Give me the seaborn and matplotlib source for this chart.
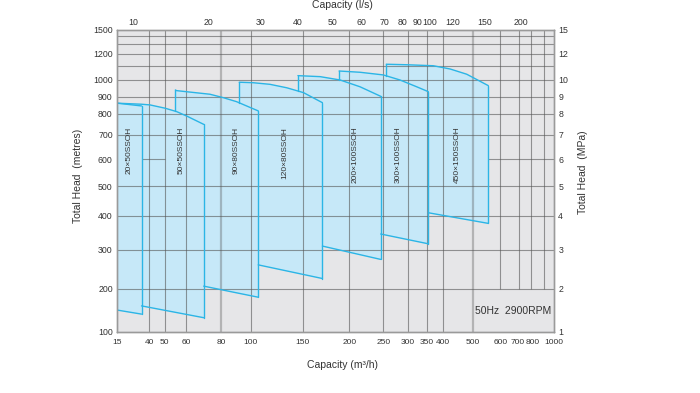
"""
Pump selection chart (SSOH series) recreated with seaborn / matplotlib.
"""

import numpy as np
import pandas as pd
import matplotlib
matplotlib.use("Agg")
import matplotlib.pyplot as plt
import matplotlib.transforms as mtransforms
import seaborn as sns


# pump models, flow in m3/h, head in metres
models = ["20×50SSOH", "50×50SSOH", "90×80SSOH", "120×80SSOH",
          "200×100SSOH", "300×100SSOH", "450×150SSOH"]

top_flow = [
    [15, 38],
    [15, 38, 40.4, 50.2, 55.3, 60.1, 69.3],
    [54.7, 55.3, 73, 81.4, 90, 99.5, 106.2],
    [91.8, 102, 116.4, 132.7, 147.3, 151, 169.5],
    [144.7, 167.2, 189, 214.6, 245.8],
    [187.8, 214.6, 250, 283.2, 322.7, 354.7],
    [255.6, 297.8, 369.8, 422.4, 478.3, 554.2],
]
top_head = [
    [861, 845],
    [861, 855, 851, 832, 813, 790, 749],
    [939, 935, 914, 894, 870, 837, 817],
    [986, 983, 973, 952, 929, 923, 864],
    [1030, 1023, 1000, 958, 902],
    [1063, 1054, 1035, 1000, 958, 929],
    [1114, 1110, 1102, 1078, 1040, 965],
]
bottom_flow = [
    [15, 38], [38, 69.3], [69.3, 106.2], [106.2, 169.5],
    [169.5, 245.8], [245.8, 354.7], [354.7, 554.2],
]
bottom_head = [
    [142, 133], [152, 125.5], [206, 175], [257, 223],
    [310, 272], [343, 316], [409, 375],
]
label_flow = [28.4, 57.3, 89.4, 131.2, 207.7, 279.7, 447.2]

# axis ticks and grid
flow_ticks = [15, 40, 50, 60, 80, 100, 150, 200, 250, 300, 350, 400,
              500, 600, 700, 800, 1000]
flow_grid = [40, 50, 60, 100, 150, 200, 250, 300, 350, 400]
flow_grid_wide = [80, 500]
flow_grid_upper = [600, 700, 800, 900]
head_ticks = [100, 200, 300, 400, 500, 600, 700, 800, 900, 1000, 1200, 1500]
head_grid = [200, 300, 400, 500, 700, 800, 900, 1000, 1100, 1200, 1300, 1400]
mpa_labels = ["1", "2", "3", "4", "5", "6", "7", "8", "9", "10", "12", "15"]
ls_ticks = [10, 20, 30, 40, 50, 60, 70, 80, 90, 100, 120, 150, 200]

# the printed axes are hand drawn, not a clean log scale:
# knots of value -> distance along the axis (px)
X_KNOTS = [15, 36, 40, 50, 60, 80, 100, 150, 200, 250, 300, 350, 400,
           500, 600, 700, 800, 900, 1000]
X_DIST = [0, 16, 32, 47.4, 69, 103.7, 133.2, 185.2, 232, 266, 290.4,
          309.4, 325.4, 355.4, 383, 401.4, 414, 426.4, 436.4]
Y_KNOTS = [100, 200, 300, 400, 500, 600, 700, 800, 900, 1000, 1100,
           1200, 1300, 1400, 1500]
Y_DIST = [0, 42.7, 81.7, 116, 145.4, 172.4, 196.7, 217.7, 235, 251.7,
          265.7, 277.7, 287.4, 295.7, 301.7]


def make_scale(knots, dist):
    lk = np.log10(knots)
    d = np.asarray(dist, float)

    def fwd(v):
        v = np.clip(np.asarray(v, float), 1e-6, None)
        return np.interp(np.log10(v), lk, d)

    def inv(u):
        return 10 ** np.interp(u, d, lk)

    return fwd, inv


X_SCALE = make_scale(X_KNOTS, X_DIST)
Y_SCALE = make_scale(Y_KNOTS, Y_DIST)

BG = "#e6e6e8"
FILL = "#c6e8f8"
EDGE = "#2bb5e6"
GRID = "#555555"
TEXT = "#333333"

sns.set_theme(style="white")
plt.rcParams["font.family"] = ["Liberation Sans", "DejaVu Sans"]

fig = plt.figure(figsize=(7, 3.93), dpi=100)
ax = fig.add_axes([0.1676, 0.156, 0.6234, 0.7677])
ax.set_facecolor(BG)
ax.set_xscale("function", functions=X_SCALE)
ax.set_yscale("function", functions=Y_SCALE)
ax.set_xlim(15, 1000)
ax.set_ylim(100, 1500)

# filled operating regions
for k in range(len(models)):
    xs = list(top_flow[k]) + [bottom_flow[k][1], bottom_flow[k][0]]
    ys = list(top_head[k]) + [bottom_head[k][1], bottom_head[k][0]]
    if k > 0:
        lx = np.log10(top_flow[k - 1])
        for x in (bottom_flow[k][0], top_flow[k][0]):
            xs.append(x)
            ys.append(np.interp(np.log10(x), lx, top_head[k - 1]))
    ax.fill(xs, ys, color=FILL, lw=0, zorder=1)

# grid
ax.vlines(flow_grid, 100, 1500, color=GRID, alpha=0.6, lw=0.8, zorder=2)
ax.vlines(flow_grid_wide, 100, 1500, color=GRID, alpha=0.35, lw=1.6, zorder=2)
ax.vlines(flow_grid_upper, 200, 1500, color=GRID, alpha=0.6, lw=0.8, zorder=2)
ax.hlines(head_grid, 15, 1000, color=GRID, alpha=0.6, lw=0.8, zorder=2)
ax.hlines(600, bottom_flow[0][1], 50, color=GRID, alpha=0.6, lw=0.8, zorder=2)
ax.hlines(600, top_flow[-1][-1], 1000, color=GRID, alpha=0.6, lw=0.8, zorder=2)

# region outlines
top_df = pd.DataFrame({
    "pump": [m for m, f in zip(models, top_flow) for _ in f],
    "flow": [v for f in top_flow for v in f],
    "head": [v for h in top_head for v in h],
})
sns.lineplot(data=top_df, x="flow", y="head", units="pump", estimator=None,
             sort=False, color=EDGE, lw=1, legend=False, ax=ax, zorder=3)

for k in range(len(models)):
    ax.plot([top_flow[k][-1]] * 2, [top_head[k][-1], bottom_head[k][1]],
            color=EDGE, lw=1, zorder=3)
    ax.plot(bottom_flow[k], bottom_head[k], color=EDGE, lw=1, zorder=3)
    if k > 1:
        x0 = top_flow[k][0]
        y_prev = np.interp(np.log10(x0), np.log10(top_flow[k - 1]),
                           top_head[k - 1])
        ax.plot([x0, x0], [top_head[k][0], y_prev], color=EDGE, lw=1,
                zorder=3)
    ax.text(label_flow[k], 738, models[k], rotation=90, ha="center",
            va="top", fontsize=6, color=TEXT, zorder=4)

ax.text(0.9954, 0.0696, "50Hz  2900RPM", transform=ax.transAxes,
        ha="right", va="center", fontsize=7.5, color=TEXT, zorder=4)

# bottom / left axes
ax.set_xticks(flow_ticks)
ax.set_xticklabels([str(v) for v in flow_ticks])
ax.set_yticks(head_ticks)
ax.set_yticklabels([str(v) for v in head_ticks])
ax.minorticks_off()
ax.tick_params(length=0, labelsize=6.3, labelcolor=TEXT)
ax.tick_params(axis="x", pad=5.5, labelsize=6.0)
ax.tick_params(axis="y", pad=3.3)

# 700 and 800 sit very close together, nudge them apart a little
for lab in ax.get_xticklabels():
    shift = {"700": -1.5, "800": 1.5}.get(lab.get_text())
    if shift:
        lab.set_transform(lab.get_transform() + mtransforms.ScaledTranslation(
            shift / 100, 0, fig.dpi_scale_trans))

ax.set_xlabel("Capacity (m³/h)", fontsize=7.5, color=TEXT)
ax.set_ylabel("Total Head  (metres)", fontsize=7.5, color=TEXT)
ax.xaxis.set_label_coords(0.517, -0.11)
ax.xaxis.label.set_va("center")
ax.yaxis.set_label_coords(-0.0894, 0.516)
ax.yaxis.label.set_va("center")

# right axis in MPa
ax_r = ax.twinx()
ax_r.set_yscale("function", functions=Y_SCALE)
ax_r.set_ylim(100, 1500)
ax_r.set_yticks(head_ticks)
ax_r.set_yticklabels(mpa_labels)
ax_r.minorticks_off()
ax_r.tick_params(length=0, labelsize=6.3, labelcolor=TEXT, pad=3.3)
ax_r.set_ylabel("Total Head  (MPa)", fontsize=7.5, color=TEXT)
ax_r.yaxis.set_label_coords(1.0671, 0.53)
ax_r.yaxis.label.set_va("center")

# top axis in l/s
ax_t = ax.twiny()
ax_t.set_xscale("function", functions=X_SCALE)
ax_t.set_xlim(15, 1000)
ax_t.set_xticks([v * 3.6 for v in ls_ticks])
ax_t.set_xticklabels([str(v) for v in ls_ticks])
ax_t.minorticks_off()
ax_t.tick_params(length=0, labelsize=6.3, labelcolor=TEXT, pad=2.5)
ax_t.set_xlabel("Capacity (l/s)", fontsize=7.5, color=TEXT)
ax_t.xaxis.set_label_coords(0.517, 1.082)
ax_t.xaxis.label.set_va("center")

for a in (ax, ax_r, ax_t):
    for s in a.spines.values():
        s.set_color("#9a9a9a")
        s.set_linewidth(0.9)

fig.savefig("out.png", dpi=100)
